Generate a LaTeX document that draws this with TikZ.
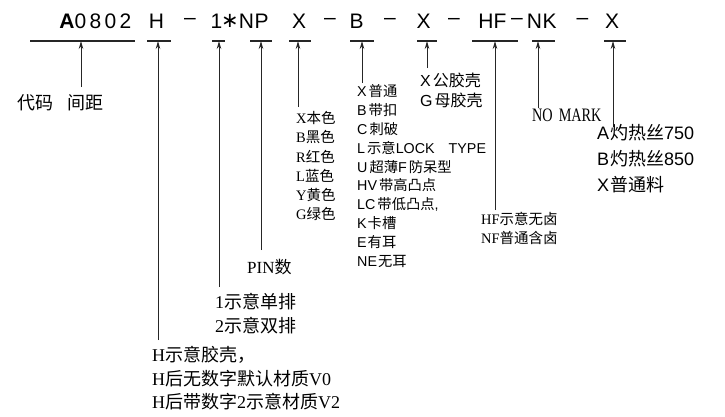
\documentclass[tikz,border=0pt]{standalone}
\usepackage{fontspec}
\setmainfont{Liberation Serif}
\newfontfamily\cjk{Noto Sans CJK SC}
\newfontfamily\cad{Liberation Sans}
\newfontfamily\djv{DejaVu Sans}
\newfontfamily\serifcond[FakeStretch=0.75]{Liberation Serif}
\usetikzlibrary{arrows.meta}
\newcommand\zh[1]{{\cjk #1}}
\tikzset{
  ul/.style={line width=1.2pt, draw=black!85},
  arr/.style={line width=0.9pt, draw=black!85, -{Stealth[length=8pt,width=4.5pt]}},
  codech/.style={inner sep=0, font=\cad\fontsize{21}{21}\selectfont},
  lbl/.style={anchor=west, inner sep=0, align=left},
  serifsm/.style={lbl, font=\fontsize{14.5}{19.2}\selectfont},
  cadsm/.style={lbl, font=\cad\fontsize{14.3}{18.9}\selectfont},
  cadmd/.style={lbl, font=\cad\fontsize{16}{20}\selectfont},
  cadlg/.style={lbl, font=\cad\fontsize{18}{26}\selectfont},
  seriflg/.style={lbl, font=\fontsize{18}{24}\selectfont},
}
\begin{document}
\begin{tikzpicture}[x=1pt,y=-1pt]
\useasboundingbox (0,0) rectangle (725,416);
% ---- code row ----
\node[codech] (cA) at (67,21) {\bfseries A};
\node[codech] (c1) at (80.5,21) {0};
\node[codech] (c2) at (95.5,21) {8};
\node[codech] (c3) at (110.5,21) {0};
\node[codech] (c4) at (125.5,21) {2};
\node[codech] (cH) at (156.5,21) {H};
\node[codech] (cd1) at (190,21) {–};
\node[codech] (c1x) at (216.5,21) {1};
\node[codech] (cst) at (230,21) {\djv ∗};
\node[codech] (cN) at (246.5,21) {N};
\node[codech] (cP) at (261.5,21) {P};
\node[codech] (cX) at (299,21) {X};
\node[codech] (cd2) at (330,21) {–};
\node[codech] (cB) at (356.5,21) {B};
\node[codech] (cd3) at (390,21) {–};
\node[codech] (cX2) at (423.5,21) {X};
\node[codech] (cd4) at (454,21) {–};
\node[codech] (cH2) at (486,21) {H};
\node[codech] (cF2) at (500,21) {F};
\node[codech] (cd5) at (517,21) {–};
\node[codech] (cN2) at (534.5,21) {N};
\node[codech] (cK2) at (549.5,21) {K};
\node[codech] (cd6) at (582.5,21) {–};
\node[codech] (cX3) at (612,21) {X};
% ---- underlines ----
\draw[ul] (30,41) -- (135,41);
\draw[ul] (147,41) -- (171,41);
\draw[ul] (212,41) -- (225,41);
\draw[ul] (250,41) -- (272,41);
\draw[ul] (289,41) -- (311,41);
\draw[ul] (350,41) -- (374,41);
\draw[ul] (417,41) -- (437,41);
\draw[ul] (472,41) -- (518,41);
\draw[ul] (532,41) -- (555,41);
\draw[ul] (604,41) -- (626,41);
% ---- arrow coordinates ----
\coordinate (t0) at (81,41);   \coordinate (b0) at (81,87);
\coordinate (t1) at (158,41);  \coordinate (b1) at (158,340);
\coordinate (t2) at (219,41);  \coordinate (b2) at (219,287);
\coordinate (t3) at (261,41);  \coordinate (b3) at (261,250);
\coordinate (t4) at (298,41);  \coordinate (b4) at (298,107);
\coordinate (t5) at (362,41);  \coordinate (b5) at (362,83);
\coordinate (t6) at (427,41);  \coordinate (b6) at (427,68);
\coordinate (t7) at (495,41);  \coordinate (b7) at (495,210);
\coordinate (t8) at (538,41);  \coordinate (b8) at (538,108);
\coordinate (t9) at (613,41);  \coordinate (b9) at (613,127);
\foreach \i in {0,...,9} { \draw[arr] (b\i) -- (t\i); }
% ---- labels ----
\node[lbl, font=\cjk\fontsize{18}{18}\selectfont] (l0) at (17,103) {代码\hspace{14pt}间距};
\node[seriflg] (l1a) at (152,355) {H\zh{示意胶壳，}};
\node[seriflg] (l1b) at (152,379) {H\zh{后无数字默认材质}V0};
\node[seriflg] (l1c) at (152,402) {H\zh{后带数字}2\zh{示意材质}V2};
\node[seriflg] (l2a) at (215,302) {1\zh{示意单排}};
\node[seriflg] (l2b) at (215,326) {2\zh{示意双排}};
\node[lbl, font=\fontsize{17}{17}\selectfont] (l3) at (247,267) {PIN\zh{数}};
\node[serifsm] (l4a) at (296,118) {X\zh{本色}};
\node[serifsm] (l4b) at (296,137.2) {B\zh{黑色}};
\node[serifsm] (l4c) at (296,156.4) {R\zh{红色}};
\node[serifsm] (l4d) at (296,175.6) {L\zh{蓝色}};
\node[serifsm] (l4e) at (296,194.8) {Y\zh{黄色}};
\node[serifsm] (l4f) at (296,214) {G\zh{绿色}};
\node[cadsm] (l5a) at (357,91) {X\hspace{2pt}\zh{普通}};
\node[cadsm] (l5b) at (357,109.9) {B\hspace{2pt}\zh{带扣}};
\node[cadsm] (l5c) at (357,128.8) {C\hspace{2pt}\zh{刺破}};
\node[cadsm] (l5d) at (357,147.7) {L\hspace{2pt}\zh{示意}LOCK\hspace{14pt}TYPE};
\node[cadsm] (l5e) at (357,166.6) {U\hspace{2pt}\zh{超薄}F\hspace{2pt}\zh{防呆型}};
\node[cadsm] (l5f) at (357,185.5) {HV\hspace{2pt}\zh{带高凸点}};
\node[cadsm] (l5g) at (357,204.4) {LC\hspace{2pt}\zh{带低凸点},};
\node[cadsm] (l5h) at (357,223.3) {K\hspace{1pt}\zh{卡槽}};
\node[cadsm] (l5i) at (357,242.2) {E\hspace{1pt}\zh{有耳}};
\node[cadsm] (l5j) at (357,261.1) {NE\hspace{1pt}\zh{无耳}};
\node[cadmd] (l6a) at (420,80) {X\hspace{2pt}\zh{公胶壳}};
\node[cadmd] (l6b) at (420,100) {G\hspace{2pt}\zh{母胶壳}};
\node[serifsm] (l7a) at (481,219) {HF\zh{示意无卤}};
\node[serifsm] (l7b) at (481,238) {NF\zh{普通含卤}};
\node[lbl, font=\serifcond\fontsize{19}{19}\selectfont] (l8) at (532,115) {NO\hspace{6pt}MARK};
\node[cadlg] (l9a) at (597,133) {A\hspace{1pt}\zh{灼热丝}750};
\node[cadlg] (l9b) at (597,159) {B\hspace{1pt}\zh{灼热丝}850};
\node[cadlg] (l9c) at (597,185) {X\hspace{1pt}\zh{普通料}};
\end{tikzpicture}
\end{document}
